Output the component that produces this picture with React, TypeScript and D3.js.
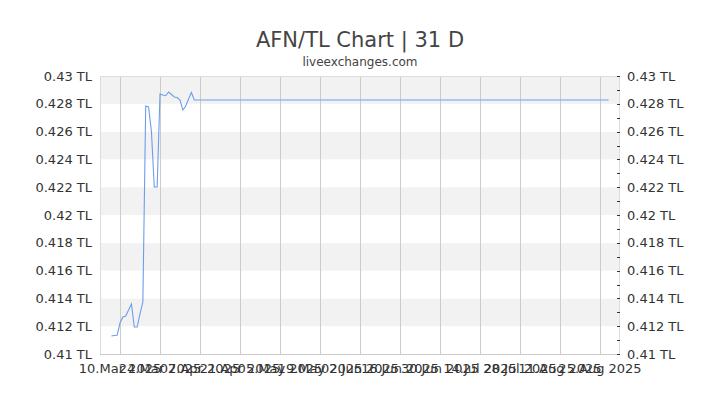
import React from 'react';
import * as d3 from 'd3';

const dates: string[] = [
    '2025-03-07', '2025-03-08', '2025-03-09', '2025-03-10', '2025-03-11', '2025-03-12',
    '2025-03-13', '2025-03-14', '2025-03-15', '2025-03-16', '2025-03-17', '2025-03-18',
    '2025-03-19', '2025-03-20', '2025-03-21', '2025-03-22', '2025-03-23', '2025-03-24',
    '2025-03-25', '2025-03-26', '2025-03-27', '2025-03-28', '2025-03-29', '2025-03-30',
    '2025-03-31', '2025-04-01', '2025-04-02', '2025-04-03', '2025-04-04', '2025-04-05',
    '2025-08-28',
];

const rates: number[] = [
    0.41130, 0.41133, 0.41135, 0.41223, 0.41266, 0.41273,
    0.41317, 0.41360, 0.41194, 0.41194, 0.41288, 0.41374,
    0.42784, 0.42777, 0.42600, 0.42201, 0.42201, 0.42871,
    0.42863, 0.42858, 0.42885, 0.42867, 0.42849, 0.42845,
    0.42827, 0.42755, 0.42784, 0.42835, 0.42881, 0.42827,
    0.42827,
];

const xTickDates: string[] = [
    '2025-03-10', '2025-03-24', '2025-04-07', '2025-04-21', '2025-05-05', '2025-05-19',
    '2025-06-02', '2025-06-16', '2025-06-30', '2025-07-14', '2025-07-28', '2025-08-11',
    '2025-08-25',
];

const yTicks: number[] = [0.41, 0.412, 0.414, 0.416, 0.418, 0.42, 0.422, 0.424, 0.426, 0.428, 0.43];
const yMinorTicks: number[] = [
    0.411, 0.413, 0.415, 0.417, 0.419, 0.421, 0.423, 0.425, 0.427, 0.429,
];

const xDomain: string[] = ['2025-03-03', '2025-09-01'];

const W = 720;
const H = 405;
const left = 100;
const right = 620;
const top = 76;
const bottom = 354;
const font = 'DejaVu Sans, sans-serif';

const App: React.FC = () => {
    const parse = d3.utcParse('%Y-%m-%d');
    const x = d3.scaleUtc()
        .domain(xDomain.map(d => parse(d) as Date))
        .range([left, right]);
    const y = d3.scaleLinear().domain([0.41, 0.43]).range([bottom, top]);
    const fmtDate = d3.utcFormat('%d.%b %Y');
    const fmtY = (v: number) => `${+v.toFixed(3)} TL`;

    const points: [number, number][] = dates.map((d, i) => [x(parse(d) as Date), y(rates[i])]);
    const line = d3.line();

    // alternating bands, grey on top
    const bands = yTicks.slice(0, -1).map((v, i) => ({ lo: v, hi: yTicks[i + 1], grey: i % 2 === 1 }));

    return (
        <svg width={W} height={H} style={{ position: 'absolute', left: 0, top: 0, background: '#fff' }}>
            <text x={360} y={47} textAnchor="middle" fontFamily={font} fontSize={21} fill="#444">
                AFN/TL Chart | 31 D
            </text>
            <text x={360} y={66} textAnchor="middle" fontFamily={font} fontSize={12} fill="#444">
                liveexchanges.com
            </text>

            {bands.map((b, i) => (
                <rect key={i} x={left} y={y(b.hi)} width={right - left} height={y(b.lo) - y(b.hi)}
                      fill={b.grey ? '#f2f2f2' : '#ffffff'} />
            ))}

            {xTickDates.map(d => {
                const px = Math.round(x(parse(d) as Date)) + 0.5;
                return <line key={d} x1={px} x2={px} y1={top} y2={bottom} stroke="#cccccc" strokeWidth={1} />;
            })}

            <rect x={left + 0.5} y={top + 0.5} width={right - left - 1} height={bottom - top}
                  fill="none" stroke="#dddddd" strokeWidth={1} />
            <line x1={left} x2={right} y1={bottom + 0.5} y2={bottom + 0.5} stroke="#cccccc" strokeWidth={1} />

            {yMinorTicks.concat(yTicks).map(v => {
                const py = Math.round(y(v)) + 0.5;
                return <line key={'t' + v} x1={right - 3} x2={right} y1={py} y2={py} stroke="#333" strokeWidth={1} />;
            })}

            <path d={line(points) || ''} fill="none" stroke="#6d9eeb" strokeWidth={1.1} />

            {yTicks.map(v => (
                <g key={'l' + v}>
                    <text x={92} y={y(v)} dy="0.35em" textAnchor="end" fontFamily={font} fontSize={13} fill="#333">
                        {fmtY(v)}
                    </text>
                    <text x={627} y={y(v)} dy="0.35em" textAnchor="start" fontFamily={font} fontSize={13} fill="#333">
                        {fmtY(v)}
                    </text>
                </g>
            ))}

            {xTickDates.map(d => (
                <text key={'x' + d} x={x(parse(d) as Date)} y={373} textAnchor="middle" fontFamily={font}
                      fontSize={13} fill="#333">
                    {fmtDate(parse(d) as Date)}
                </text>
            ))}
        </svg>
    );
};

export default App;
